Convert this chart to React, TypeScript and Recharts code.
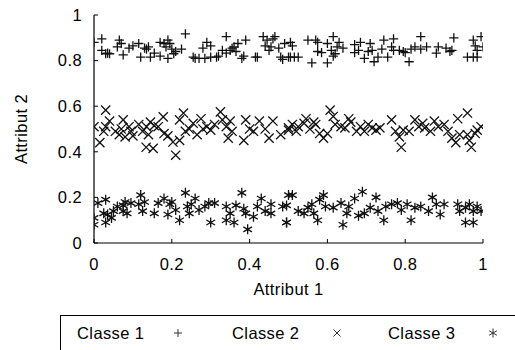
import React from "react";
import { ScatterChart, Scatter, XAxis, YAxis, Label } from "recharts";

const axisTicks = [0, 0.2, 0.4, 0.6, 0.8, 1];
const seriesNames = ["Classe 1", "Classe 2", "Classe 3"];

const class1X = [0.0,0.02,0.02,0.03,0.035,0.04,0.065,0.06,0.07,0.075,0.09,0.1,0.115,0.12,0.13,0.135,0.14,0.145,0.155,0.17,0.17,0.18,0.185,0.19,0.19,0.195,0.2,0.205,0.21,0.225,0.235,0.255,0.26,0.27,0.28,0.285,0.29,0.3,0.3,0.315,0.32,0.33,0.34,0.34,0.35,0.355,0.36,0.365,0.37,0.38,0.385,0.39,0.415,0.42,0.435,0.44,0.445,0.45,0.455,0.46,0.465,0.475,0.48,0.485,0.49,0.5,0.505,0.51,0.505,0.515,0.525,0.55,0.56,0.57,0.575,0.575,0.585,0.6,0.6,0.61,0.615,0.615,0.62,0.625,0.63,0.64,0.67,0.67,0.68,0.685,0.695,0.705,0.71,0.715,0.72,0.73,0.74,0.745,0.755,0.765,0.77,0.77,0.785,0.795,0.8,0.81,0.815,0.825,0.84,0.84,0.855,0.88,0.885,0.905,0.915,0.92,0.925,0.96,0.975,0.975,0.98,0.985,0.985,0.995,1.0];
const class1Y = [0.88,0.895,0.845,0.83,0.833,0.83,0.89,0.86,0.875,0.825,0.855,0.865,0.875,0.815,0.855,0.85,0.86,0.815,0.833,0.82,0.88,0.875,0.86,0.81,0.89,0.875,0.85,0.83,0.84,0.85,0.917,0.815,0.81,0.81,0.855,0.81,0.88,0.865,0.815,0.815,0.82,0.845,0.905,0.833,0.845,0.855,0.86,0.84,0.875,0.81,0.82,0.89,0.815,0.815,0.905,0.865,0.89,0.845,0.86,0.895,0.905,0.855,0.815,0.805,0.875,0.815,0.88,0.865,0.815,0.815,0.815,0.89,0.79,0.89,0.88,0.84,0.835,0.79,0.875,0.845,0.905,0.82,0.83,0.86,0.88,0.855,0.87,0.835,0.845,0.88,0.81,0.84,0.875,0.845,0.795,0.815,0.85,0.89,0.815,0.86,0.895,0.845,0.845,0.84,0.835,0.795,0.85,0.86,0.905,0.85,0.86,0.833,0.86,0.855,0.84,0.845,0.9,0.815,0.815,0.89,0.865,0.845,0.815,0.905,0.86];

const class2X = [0.0,0.015,0.025,0.03,0.03,0.04,0.055,0.065,0.07,0.075,0.08,0.09,0.095,0.1,0.115,0.125,0.135,0.14,0.134,0.145,0.152,0.155,0.165,0.178,0.18,0.19,0.203,0.21,0.22,0.22,0.23,0.235,0.245,0.255,0.265,0.275,0.28,0.29,0.3,0.31,0.325,0.33,0.34,0.345,0.35,0.355,0.385,0.39,0.4,0.41,0.425,0.44,0.45,0.46,0.48,0.5,0.5,0.51,0.52,0.525,0.54,0.545,0.555,0.565,0.57,0.58,0.59,0.6,0.607,0.615,0.62,0.635,0.645,0.655,0.66,0.675,0.685,0.695,0.705,0.715,0.725,0.735,0.765,0.775,0.785,0.79,0.795,0.81,0.825,0.835,0.845,0.85,0.865,0.875,0.885,0.9,0.91,0.92,0.93,0.935,0.94,0.96,0.96,0.965,0.97,0.98,0.985,0.995];
const class2Y = [0.51,0.44,0.49,0.583,0.51,0.535,0.49,0.475,0.5,0.54,0.465,0.51,0.49,0.47,0.52,0.49,0.51,0.475,0.42,0.53,0.415,0.515,0.51,0.553,0.48,0.47,0.443,0.385,0.54,0.45,0.57,0.49,0.5,0.525,0.475,0.545,0.5,0.51,0.495,0.52,0.575,0.54,0.51,0.46,0.535,0.49,0.45,0.54,0.5,0.49,0.535,0.5,0.46,0.535,0.475,0.495,0.505,0.52,0.49,0.51,0.525,0.545,0.5,0.53,0.52,0.48,0.46,0.48,0.583,0.555,0.52,0.51,0.505,0.545,0.53,0.49,0.51,0.49,0.52,0.505,0.495,0.505,0.54,0.49,0.465,0.42,0.495,0.49,0.54,0.51,0.525,0.505,0.49,0.535,0.51,0.52,0.49,0.46,0.44,0.545,0.475,0.57,0.475,0.45,0.42,0.48,0.495,0.51];

const class3X = [0.0,0.0,0.01,0.025,0.03,0.03,0.035,0.045,0.05,0.06,0.075,0.075,0.08,0.085,0.095,0.115,0.12,0.125,0.13,0.155,0.165,0.18,0.19,0.195,0.2,0.21,0.22,0.235,0.24,0.245,0.25,0.26,0.27,0.285,0.295,0.3,0.31,0.34,0.34,0.35,0.36,0.365,0.38,0.385,0.39,0.395,0.41,0.42,0.43,0.44,0.455,0.455,0.485,0.495,0.5,0.495,0.495,0.51,0.525,0.54,0.55,0.56,0.565,0.575,0.58,0.59,0.595,0.615,0.635,0.64,0.65,0.655,0.67,0.68,0.69,0.695,0.71,0.725,0.73,0.745,0.75,0.765,0.78,0.79,0.805,0.815,0.825,0.84,0.86,0.87,0.88,0.89,0.9,0.935,0.94,0.955,0.955,0.965,0.975,0.975,0.985,0.995];
const class3Y = [0.08,0.11,0.175,0.13,0.09,0.19,0.125,0.11,0.14,0.16,0.165,0.14,0.18,0.13,0.175,0.17,0.21,0.14,0.18,0.13,0.175,0.195,0.125,0.17,0.18,0.145,0.1,0.22,0.16,0.13,0.17,0.195,0.145,0.16,0.175,0.09,0.175,0.16,0.1,0.13,0.09,0.165,0.22,0.15,0.13,0.06,0.115,0.16,0.195,0.14,0.17,0.13,0.16,0.09,0.21,0.165,0.09,0.21,0.14,0.13,0.155,0.17,0.13,0.1,0.19,0.21,0.16,0.155,0.175,0.08,0.13,0.16,0.195,0.12,0.225,0.13,0.155,0.2,0.14,0.1,0.16,0.17,0.175,0.145,0.17,0.1,0.155,0.16,0.14,0.2,0.17,0.125,0.17,0.17,0.14,0.155,0.09,0.17,0.14,0.09,0.16,0.14];

const zip = (xs: number[], ys: number[]) => xs.map((x, i) => ({ x, y: ys[i] }));
const data1 = zip(class1X, class1Y);
const data2 = zip(class2X, class2Y);
const data3 = zip(class3X, class3Y);

const S = 4.6;
const SW = 1.3;
const Plus = (p: any) => (
  <path d={`M${p.cx - S},${p.cy}H${p.cx + S}M${p.cx},${p.cy - S}V${p.cy + S}`} stroke="#111" strokeWidth={SW} fill="none" />
);
const Cross = (p: any) => (
  <path d={`M${p.cx - S},${p.cy - S}L${p.cx + S},${p.cy + S}M${p.cx - S},${p.cy + S}L${p.cx + S},${p.cy - S}`} stroke="#111" strokeWidth={SW} fill="none" />
);
const Star = (p: any) => {
  const r = 5;
  const a = r * 0.866;
  const b = r * 0.5;
  return (
    <path
      d={`M${p.cx},${p.cy - r}V${p.cy + r}M${p.cx - a},${p.cy - b}L${p.cx + a},${p.cy + b}M${p.cx - a},${p.cy + b}L${p.cx + a},${p.cy - b}`}
      stroke="#111" strokeWidth={SW} fill="none"
    />
  );
};

const font = "'Liberation Sans', Arial, sans-serif";
const FS = 16.5;
const LS = 0.4;

const YLabel = (props: any) => {
  const vb = props.viewBox;
  const cx = vb.x - 23;
  const cy = vb.y + vb.height / 2;
  return (
    <text x={cx} y={cy} transform={`rotate(-90, ${cx}, ${cy})`} textAnchor="middle" dominantBaseline="central" fontSize={FS} letterSpacing={LS} fontFamily={font} fill="#000">
      Attribut 2
    </text>
  );
};

const LegendSym = ({ kind }: { kind: number }) => {
  const c = 7;
  let d = "";
  if (kind === 0) d = `M${c - 4},${c}H${c + 4}M${c},${c - 4}V${c + 4}`;
  else if (kind === 1) d = `M${c - 3.5},${c - 3.5}L${c + 3.5},${c + 3.5}M${c - 3.5},${c + 3.5}L${c + 3.5},${c - 3.5}`;
  else d = `M${c},${c - 4.5}V${c + 4.5}M${c - 3.9},${c - 2.25}L${c + 3.9},${c + 2.25}M${c - 3.9},${c + 2.25}L${c + 3.9},${c - 2.25}`;
  return (
    <svg width={14} height={14} style={{ position: "absolute", left: -7, top: -7 }}>
      <path d={d} stroke="#333" strokeWidth={1} fill="none" />
    </svg>
  );
};

const legendTextX = [77, 232, 388];
const legendSymX = [178, 337, 493];

export default function App() {
  return (
    <div style={{ position: "absolute", left: 0, top: 0, width: 515, height: 350, background: "#fff", overflow: "hidden" }}>
      <ScatterChart width={515} height={350} margin={{ top: 15, right: 32, bottom: 77, left: 44 }}>
        <XAxis
          type="number" dataKey="x" domain={[0, 1]} ticks={axisTicks}
          tickSize={-4} tickMargin={19} height={30}
          axisLine={{ stroke: "#000", strokeWidth: 1.2 }} tickLine={{ stroke: "#000" }}
          tick={{ fill: "#000", fontSize: FS, fontFamily: font, letterSpacing: LS }}
          allowDataOverflow
        >
          <Label value="Attribut 1" position="bottom" offset={10} fill="#000" fontSize={FS} letterSpacing={LS} fontFamily={font} />
        </XAxis>
        <YAxis
          type="number" dataKey="y" domain={[0, 1]} ticks={axisTicks}
          tickSize={-4} tickMargin={16} width={50}
          axisLine={{ stroke: "#000", strokeWidth: 1.2 }} tickLine={{ stroke: "#000" }}
          tick={{ fill: "#000", fontSize: FS, fontFamily: font, letterSpacing: LS }}
          allowDataOverflow
        >
          <Label content={YLabel} />
        </YAxis>
        <Scatter name={seriesNames[0]} data={data1} shape={Plus} isAnimationActive={false} />
        <Scatter name={seriesNames[1]} data={data2} shape={Cross} isAnimationActive={false} />
        <Scatter name={seriesNames[2]} data={data3} shape={Star} isAnimationActive={false} />
      </ScatterChart>
      <div style={{ position: "absolute", left: 60, top: 315, width: 470, height: 50, borderLeft: "1px solid #000", borderTop: "1px solid #000" }} />
      {seriesNames.map((n, i) => (
        <React.Fragment key={n}>
          <div style={{ position: "absolute", left: legendTextX[i], top: 324, fontSize: FS, letterSpacing: LS, fontFamily: font, lineHeight: "18px", color: "#000", whiteSpace: "nowrap" }}>{n}</div>
          <div style={{ position: "absolute", left: legendSymX[i], top: 333 }}>
            <LegendSym kind={i} />
          </div>
        </React.Fragment>
      ))}
    </div>
  );
}
